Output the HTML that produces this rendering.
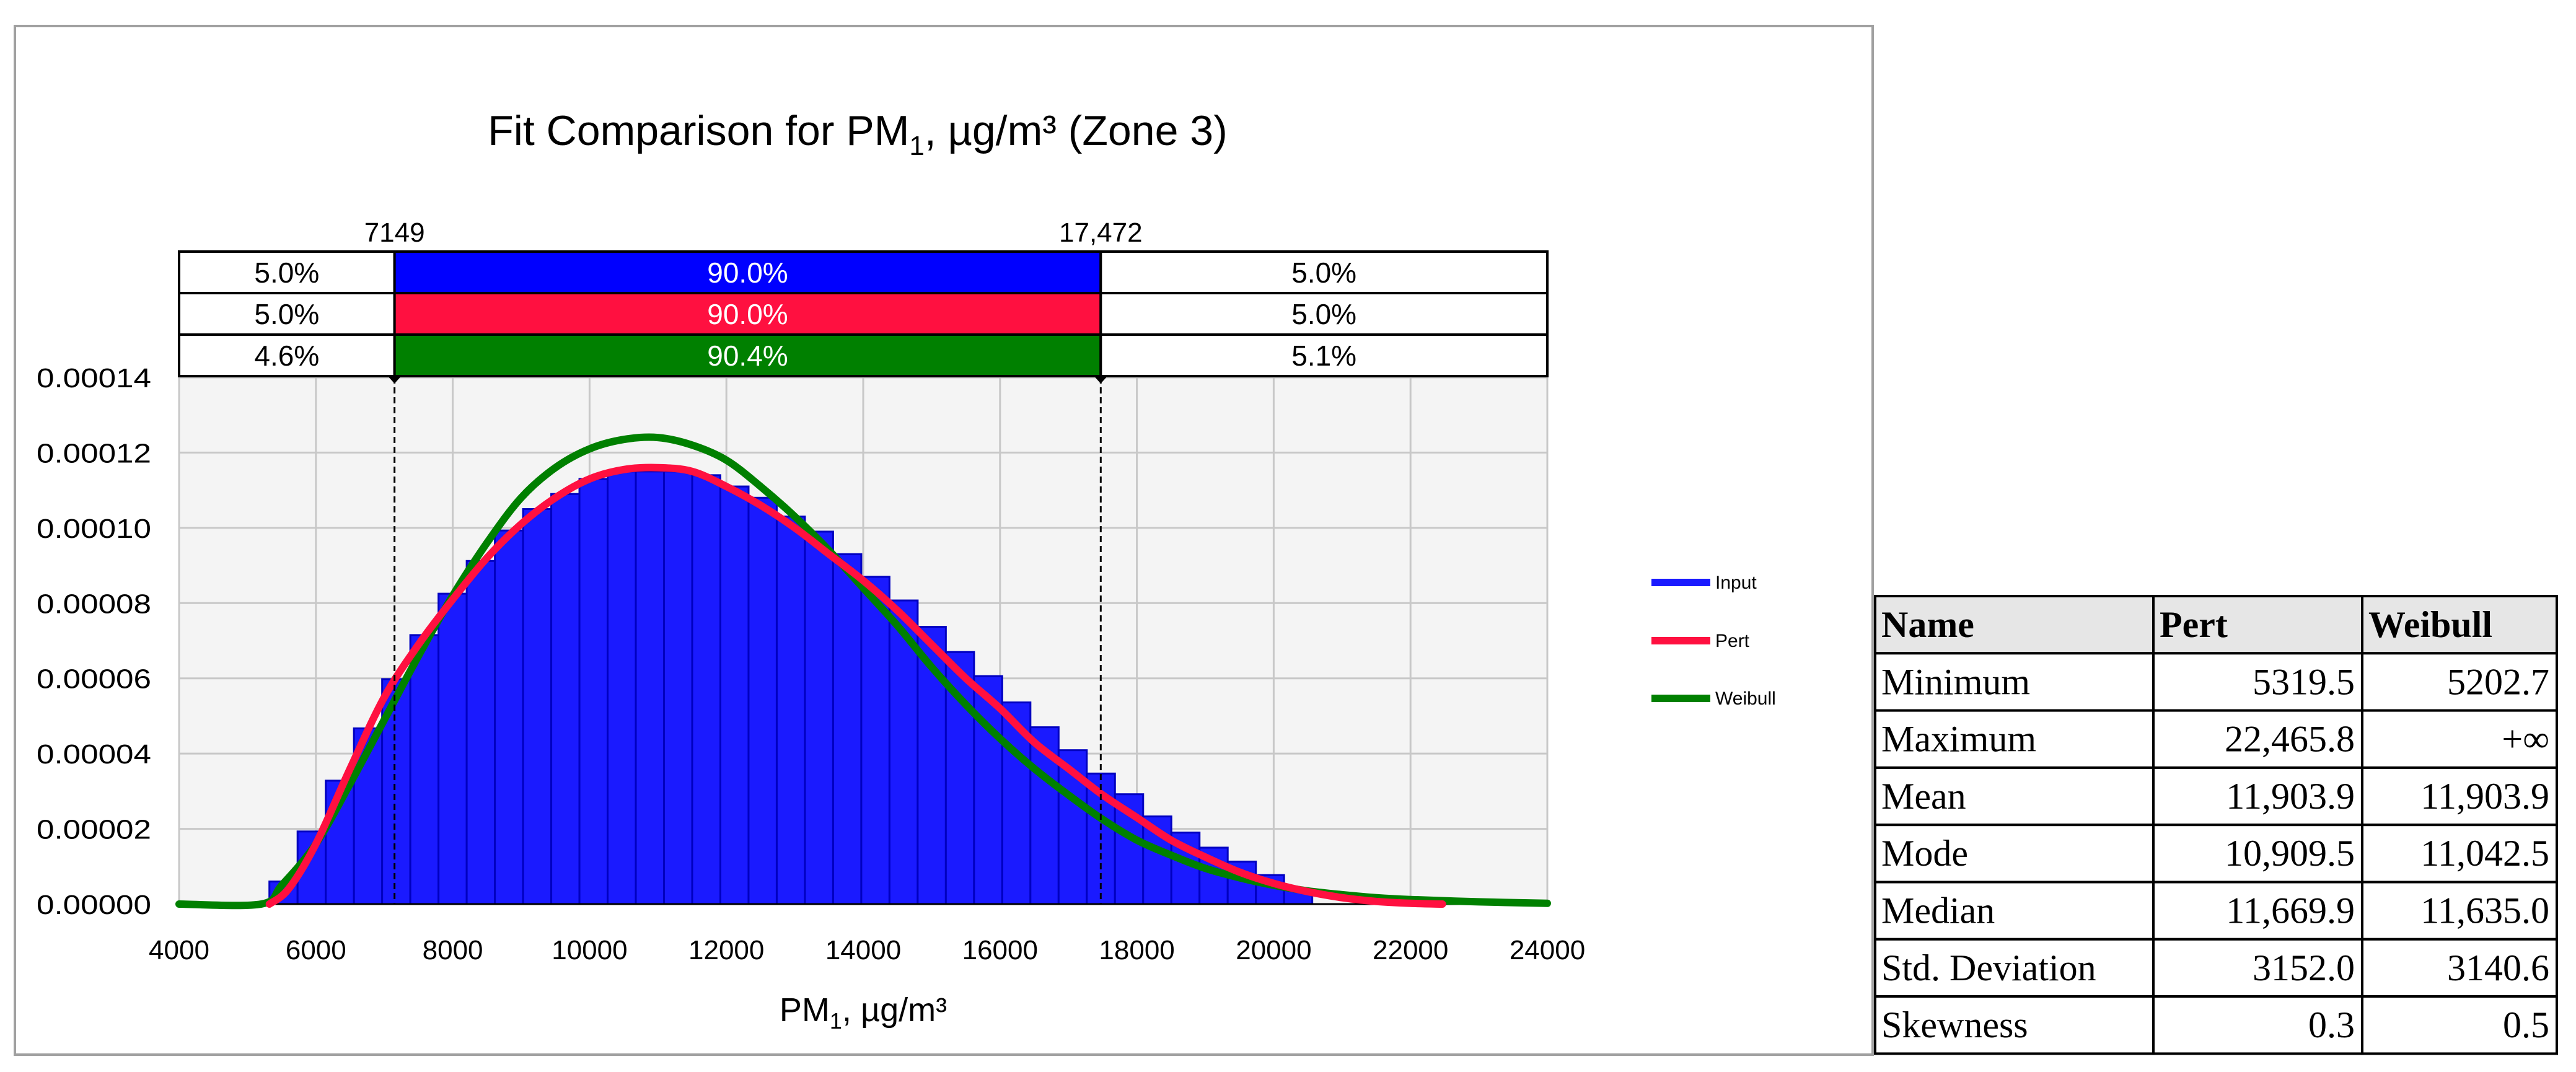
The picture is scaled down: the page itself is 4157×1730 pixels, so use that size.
<!DOCTYPE html>
<html><head><meta charset="utf-8"><style>
html,body{margin:0;padding:0;background:#fff;width:4157px;height:1730px;overflow:hidden}
svg{display:block}
.t{font-family:"Liberation Sans",sans-serif}
.s{font-family:"Liberation Serif",serif}
</style></head><body>
<svg id="chart" width="4157" height="1730" xmlns="http://www.w3.org/2000/svg">
<rect x="24" y="42" width="2998" height="1660" fill="#fff" stroke="#a0a0a0" stroke-width="4"/>
<text class="t" x="1384" y="234" font-size="68" text-anchor="middle">Fit Comparison for PM<tspan font-size="44" dy="16">1</tspan><tspan dy="-16">, µg/m³ (Zone 3)</tspan></text>
<g id="plot"></g>
<g id="pct"></g>
<g id="legend">
 <line x1="2665" y1="940" x2="2760" y2="940" stroke="#1a1aff" stroke-width="12"/>
 <text class="t" x="2768" y="950" font-size="30">Input</text>
 <line x1="2665" y1="1034" x2="2760" y2="1034" stroke="#ff1040" stroke-width="12"/>
 <text class="t" x="2768" y="1044" font-size="30">Pert</text>
 <line x1="2665" y1="1127" x2="2760" y2="1127" stroke="#008000" stroke-width="12"/>
 <text class="t" x="2768" y="1137" font-size="30">Weibull</text>
</g>
<g id="stats"></g>
</svg>
<script>
const binStart = 5320;
const binWidth = 412;
const histValues = [0.6,1.93,3.28,4.67,5.98,7.15,8.25,9.12,9.93,10.5,10.9,11.3,11.5,11.5,11.5,11.4,11.1,10.8,10.3,9.9,9.3,8.7,8.07,7.37,6.7,6.06,5.36,4.7,4.09,3.47,2.92,2.33,1.9,1.5,1.13,0.77,0.4];
const pertX = [5320,5600,6000,6500,7000,7500,8000,8500,9000,9500,10000,10500,11000,11500,12000,12500,13000,13500,14000,14500,15000,15500,16000,16500,17000,17500,18000,18500,19000,19500,20000,20500,21000,21500,22000,22466];
const pertY = [0,0.4,1.6,3.6,5.5,6.9,8.1,9.2,10.1,10.8,11.3,11.55,11.6,11.5,11.1,10.6,10.0,9.3,8.6,7.8,6.9,6.0,5.2,4.3,3.6,2.9,2.3,1.7,1.25,0.85,0.55,0.33,0.17,0.07,0.02,0];
const weibX = [4000,5200,5500,6000,6500,7000,7500,8000,8500,9000,9500,10000,10500,11000,11500,12000,12500,13000,13500,14000,14500,15000,15500,16000,16500,17000,17500,18000,18500,19000,19500,20000,20500,21000,21500,22000,23000,24000];
const weibY = [0,0,0.5,1.6,3.2,4.9,6.6,8.2,9.6,10.8,11.6,12.1,12.35,12.4,12.2,11.8,11.1,10.3,9.4,8.4,7.4,6.3,5.3,4.4,3.6,2.9,2.25,1.7,1.3,0.95,0.7,0.5,0.35,0.25,0.17,0.12,0.06,0.02];
const xTicks = [4000,6000,8000,10000,12000,14000,16000,18000,20000,22000,24000];
const yTicks = [0,2,4,6,8,10,12,14];
const yTickLabels = ["0.00000","0.00002","0.00004","0.00006","0.00008","0.00010","0.00012","0.00014"];
const markers = [7149,17472];
const markerLabels = ["7149","17,472"];
const pctRows = [["5.0%","90.0%","5.0%"],["5.0%","90.0%","5.0%"],["4.6%","90.4%","5.1%"]];
const pctColors = ["#0000ff","#ff1040","#008000"];
const statHeader = ["Name","Pert","Weibull"];
const statRows = [["Minimum","5319.5","5202.7"],["Maximum","22,465.8","+∞"],["Mean","11,903.9","11,903.9"],["Mode","10,909.5","11,042.5"],["Median","11,669.9","11,635.0"],["Std. Deviation","3152.0","3140.6"],["Skewness","0.3","0.5"]];

const NS="http://www.w3.org/2000/svg";
const L=289,R=2497,T=609,B=1459;
const xs=v=>L+(v-4000)/20000*(R-L);
const ys=v=>B-v/14*(B-T);
function mk(tag,attrs,parent,txt){const e=document.createElementNS(NS,tag);for(const k in attrs)e.setAttribute(k,attrs[k]);if(txt!==undefined)e.textContent=txt;parent.appendChild(e);return e;}
const plot=document.getElementById('plot');
let e=mk('rect',{x:L,y:T,width:R-L,height:B-T,fill:'#f4f4f4'},plot);


xTicks.forEach(v=>{const g=mk('line',{x1:xs(v),x2:xs(v),y1:T,y2:B,stroke:'#c8c8c8','stroke-width':3},plot);


const t=mk('text',{x:xs(v),y:1548,'font-size':44,'text-anchor':'middle',class:'t'},plot,String(v));

});
yTicks.forEach((v,i)=>{const g=mk('line',{x1:L,x2:R,y1:ys(v),y2:ys(v),stroke:'#c8c8c8','stroke-width':3},plot);


const t=mk('text',{x:244,y:ys(v)+16,'font-size':44,'text-anchor':'end',class:'t',textLength:185,lengthAdjust:'spacingAndGlyphs'},plot,yTickLabels[i]);

});
histValues.forEach((v,i)=>{const x0=xs(binStart+i*binWidth),x1=xs(binStart+(i+1)*binWidth);
const b=mk('rect',{x:x0,y:ys(v),width:x1-x0,height:B-ys(v),fill:'#1a1aff',stroke:'#0000c0','stroke-width':3},plot);

});
const ax=mk('line',{x1:L,x2:R,y1:B,y2:B,stroke:'#000','stroke-width':3},plot);


function curve(X,Y,col,name){
 const P=X.map((x,i)=>[xs(x),ys(Y[i])]);
 let d='M'+P[0][0].toFixed(1)+','+P[0][1].toFixed(1);
 for(let i=0;i<P.length-1;i++){const p0=P[i-1]||P[i],p1=P[i],p2=P[i+1],p3=P[i+2]||p2;
  const c1=[p1[0]+(p2[0]-p0[0])/6,p1[1]+(p2[1]-p0[1])/6],c2=[p2[0]-(p3[0]-p1[0])/6,p2[1]-(p3[1]-p1[1])/6];
  d+=`C${c1[0].toFixed(1)},${c1[1].toFixed(1)} ${c2[0].toFixed(1)},${c2[1].toFixed(1)} ${p2[0].toFixed(1)},${p2[1].toFixed(1)}`;}
 const p=mk('path',{d:d,fill:'none',stroke:col,'stroke-width':12,'stroke-linejoin':'round','stroke-linecap':'round'},plot);
 
 }
curve(weibX,weibY,'#008000','weibull-curve');
curve(pertX,pertY,'#ff1040','pert-curve');
markers.forEach((m,i)=>{const l=mk('line',{x1:xs(m),x2:xs(m),y1:T,y2:B,stroke:'#000','stroke-width':3,'stroke-dasharray':'10,6'},plot);


const d=mk('path',{d:`M${xs(m)},${T-10}l9,10l-9,10l-9,-10z`,fill:'#000'},plot);


const t=mk('text',{x:xs(m),y:390,'font-size':44,'text-anchor':'middle',class:'t'},plot,markerLabels[i]);

});
const xt=mk('text',{x:1393,y:1648,'font-size':54,'text-anchor':'middle',class:'t'},plot,'PM');


mk('tspan',{'font-size':36,dy:12},xt,'1');
mk('tspan',{dy:-12},xt,', µg/m³');
const pct=document.getElementById('pct');
const cx=[L,xs(markers[0]),xs(markers[1]),R];
pctRows.forEach((row,r)=>{const y0=406+r*67;
row.forEach((txt,c)=>{const rc=mk('rect',{x:cx[c],y:y0,width:cx[c+1]-cx[c],height:67,fill:c==1?pctColors[r]:'#fff',stroke:'#000','stroke-width':4},pct);


const t=mk('text',{x:(cx[c]+cx[c+1])/2,y:y0+50,'font-size':46,'text-anchor':'middle',fill:c==1?'#fff':'#000',class:'t'},pct,txt);

});});
const st=document.getElementById('stats');
const sx=[3026,3475,3812,4126];const rowH=92.3;const sy=962;
[statHeader].concat(statRows).forEach((row,r)=>{const y0=sy+r*rowH;
row.forEach((txt,c)=>{const rc=mk('rect',{x:sx[c],y:y0,width:sx[c+1]-sx[c],height:rowH,fill:r==0?'#e6e6e6':'#fff',stroke:'#000','stroke-width':4},st);


const right=(r>0&&c>0);
const t=mk('text',{x:right?sx[c+1]-12:sx[c]+10,y:y0+66,'font-size':60,'text-anchor':right?'end':'start','font-weight':r==0?'bold':'normal',class:'s'},st,txt);

});});
</script>
</body></html>
